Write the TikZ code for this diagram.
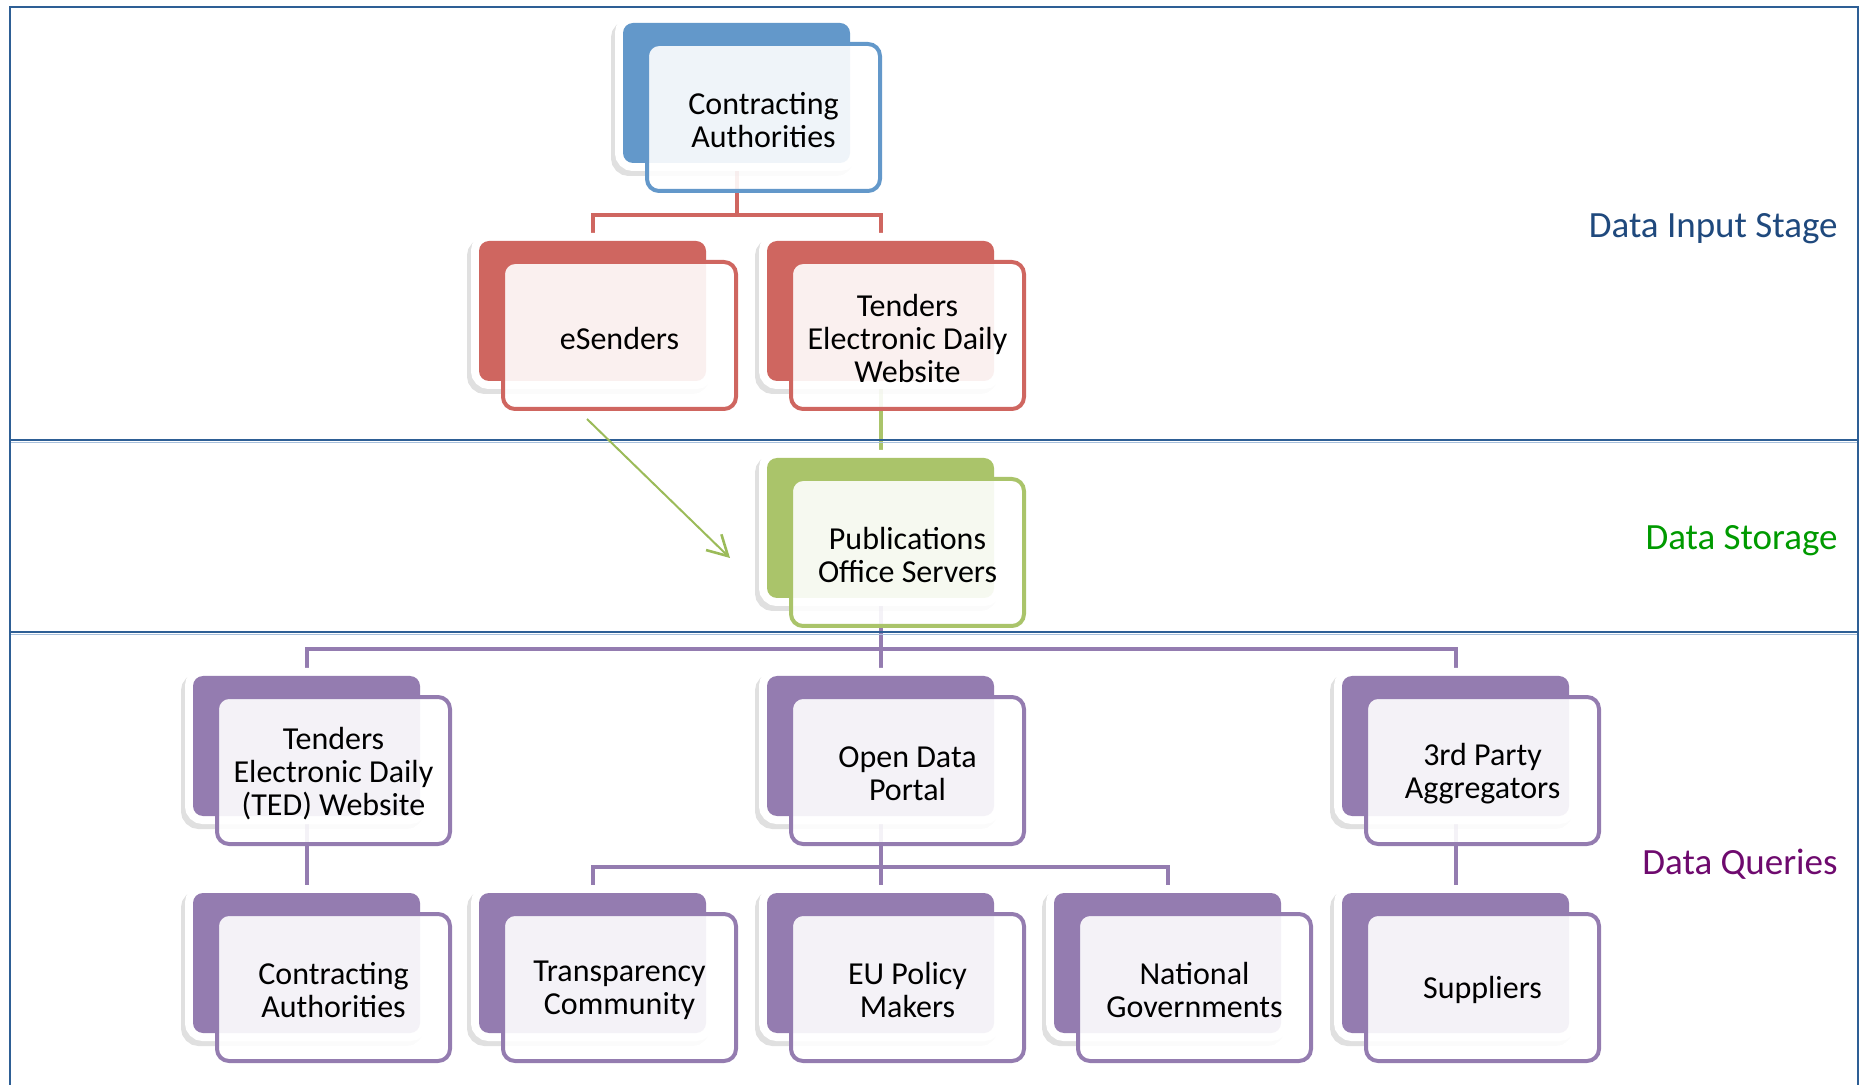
\documentclass[tikz,border=0pt]{standalone}
\usepackage{fontspec}
\setmainfont{Carlito}
\usetikzlibrary{calc,arrows.meta}
\pgfdeclarelayer{bg}
\pgfsetlayers{bg,main}
\definecolor{cblue}{HTML}{6398CA}
\definecolor{cred}{HTML}{CF6660}
\definecolor{cgreen}{HTML}{AAC46A}
\definecolor{arrgreen}{HTML}{9BBB59}
\definecolor{cpurple}{HTML}{947CB0}
\definecolor{frameblue}{HTML}{2E5F95}
\definecolor{frameshade}{HTML}{A8C0DC}
\definecolor{lblblue}{HTML}{1F497D}
\definecolor{lblgreen}{HTML}{009A00}
\definecolor{lblpurple}{HTML}{6E0A6E}
\tikzset{
  backbox/.style={rounded corners=5pt, minimum width=113.5pt, minimum height=70pt, inner sep=0pt, fill=#1,
    preaction={draw=black, draw opacity=0.12, line width=8pt, transform canvas={shift={(-2pt,-2.5pt)}}},
    preaction={draw=white, line width=8pt}},
  frontbox/.style={rounded corners=6pt, minimum width=116.5pt, minimum height=73.5pt, inner sep=0pt,
    draw=#1, line width=2pt, fill=white, fill opacity=0.9},
  boxtext/.style={inner sep=0pt, align=center, font=\fontsize{16}{16.5}\selectfont},
  conn/.style={line width=2pt, draw=#1},
  frameline/.style={draw=frameblue, line width=1.25pt},
  shadeline/.style={draw=frameshade, line width=0.6pt},
  stagelabel/.style={anchor=east, inner sep=0pt, font=\fontsize{18.5}{22}\selectfont, text=#1},
}
\newcommand{\orgunit}[5]{%
  \node[backbox=#2] (#1B) at (#3,#4) {};
  \node[frontbox=#2] (#1) at ($(#1B.center)+(27,24.5)$) {};
  \node[boxtext] (#1T) at ([yshift=-1.4pt]#1.center) {#5};
}
\begin{document}
\begin{tikzpicture}[x=0.5pt,y=-0.5pt]
\useasboundingbox (0,0) rectangle (1865,1085);
% frame
\draw[frameline] (10,7) rectangle (1858,1110);
\draw[shadeline] (11,442.5) -- (1857,442.5);
\draw[shadeline] (11,634.5) -- (1857,634.5);
\draw[frameline] (10,440) -- (1858,440);
\draw[frameline] (10,632) -- (1858,632);
% stage labels
\node[stagelabel=lblblue] (lin) at (1838,228.5) {Data Input Stage};
\node[stagelabel=lblgreen] (lst) at (1838,540.5) {Data Storage};
\node[stagelabel=lblpurple] (lq) at (1838,864) {Data Queries};
% boxes
\orgunit{ca}{cblue}{736.5}{93}{Contracting\\Authorities}
\orgunit{es}{cred}{592.5}{311}{eSenders}
\orgunit{ted}{cred}{880.5}{311}{Tenders\\Electronic Daily\\Website}
\orgunit{pub}{cgreen}{880.5}{528}{Publications\\Office Servers}
\orgunit{tedw}{cpurple}{306.5}{746}{Tenders\\Electronic Daily\\(TED) Website}
\orgunit{odp}{cpurple}{880.5}{746}{Open Data\\Portal}
\orgunit{agg}{cpurple}{1455.5}{746}{3rd Party\\Aggregators}
\orgunit{caq}{cpurple}{306.5}{963}{Contracting\\Authorities}
\orgunit{tc}{cpurple}{592.5}{963}{Transparency\\Community}
\orgunit{eu}{cpurple}{880.5}{963}{EU Policy\\Makers}
\orgunit{ng}{cpurple}{1167.5}{963}{National\\Governments}
\orgunit{sup}{cpurple}{1455.5}{963}{Suppliers}
% connectors
\begin{pgfonlayer}{bg}
\draw[conn=cred] (caB.center) -- (caB.center |- 0,215) -| (esB.center);
\draw[conn=cred] (caB.center |- 0,215) -| (tedB.center);
\draw[conn=cgreen] (tedB.center) -- (pubB.center);
\draw[conn=cpurple] (pubB.center) -- (pubB.center |- 0,649) -| (tedwB.center);
\draw[conn=cpurple] (pubB.center |- 0,649) -| (odpB.center);
\draw[conn=cpurple] (pubB.center |- 0,649) -| (aggB.center);
\draw[conn=cpurple] (tedwB.center) -- (caqB.center);
\draw[conn=cpurple] (odpB.center) -- (odpB.center |- 0,867) -| (tcB.center);
\draw[conn=cpurple] (odpB.center |- 0,867) -| (euB.center);
\draw[conn=cpurple] (odpB.center |- 0,867) -| (ngB.center);
\draw[conn=cpurple] (aggB.center) -- (supB.center);
\end{pgfonlayer}
% arrow
\coordinate (arrE) at (730,558);
\draw[draw=arrgreen, line width=1pt, -{Straight Barb[length=10pt,width=11pt,line width=1.3pt]}]
  ([xshift=-16.25pt,yshift=-4pt]es.south) -- (arrE);
\end{tikzpicture}
\end{document}
